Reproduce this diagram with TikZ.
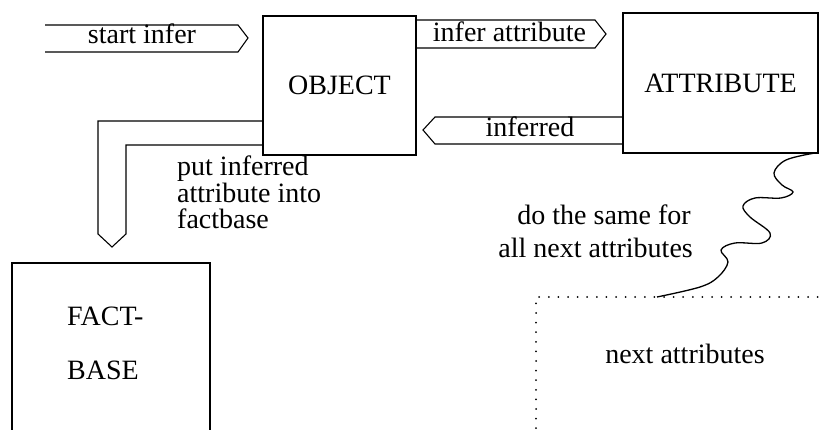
\documentclass[tikz,border=0pt]{standalone}
\usepackage{fontspec}
\setmainfont{Liberation Serif}
\usepackage{tikz}
\usetikzlibrary{positioning,calc}

\begin{document}
\begin{tikzpicture}[x=1pt, y=-1pt]
        % Định nghĩa style
        \tikzstyle{box} = [
            draw=black,
            line width=1.1pt,
            font=\fontsize{28}{32}\selectfont,
            outer sep=0pt
        ]
        \tikzstyle{band} = [draw=black, line width=1.1pt]
        \tikzstyle{txt} = [font=\fontsize{28}{32}\selectfont, inner sep=0pt]
        \tikzstyle{dotbox} = [
            draw=black,
            line width=2pt,
            line cap=round,
            dash pattern=on 0pt off 9.6pt,
            outer sep=0pt
        ]

        % Khung hình
        \useasboundingbox (0,0) rectangle (820,430);
        \fill[white] (0,0) rectangle (820,430);
        \clip (0,0) rectangle (820,430);

        % Các khối chính
        \node[box, minimum width=153, minimum height=139] (obj) at (339.5,85.5) {OBJECT};
        \node[box, minimum width=195, minimum height=140] (attr) at (720.5,83) {ATTRIBUTE};
        \node[box, anchor=north west, minimum width=198, minimum height=200] (fact) at (12,263) {};
        \node[txt, anchor=base west] (fact1) at (67,326) {FACT-};
        \node[txt, anchor=base west] (fact2) at (67,380) {BASE};
        \node[dotbox, anchor=north west, minimum width=320, minimum height=160] (next) at (536,297) {};
        \node[txt, anchor=base] (nextlbl) at (685,364) {next attributes};

        % Mũi tên start infer
        \coordinate (startin) at (45,38);
        \draw[band] (startin |- 0,25) -- (238,25) -- (248,38) -- (238,52) -- (startin |- 0,52);
        \node[txt, anchor=base] (startlbl) at (142,44) {start infer};

        % OBJECT -> ATTRIBUTE
        \draw[band] (obj.east |- 0,20) -- (595,20) -- (606,34) -- (595,48) -- (obj.east |- 0,48);
        \node[txt, anchor=base] (inferlbl) at (509.5,42) {infer attribute};

        % ATTRIBUTE -> OBJECT
        \draw[band] (attr.west |- 0,117) -- (435,117) -- (423,130) -- (435,144) -- (attr.west |- 0,144);
        \node[txt, anchor=base] (inferredlbl) at (530,137) {inferred};

        % OBJECT -> FACT-BASE
        \draw[band] (obj.west |- 0,121) -- (98,121) -- (98,234) -- (112,247) -- (126,234) -- (126,145) -- (obj.west |- 0,145);
        \node[txt, anchor=base west] (put1) at (177,176) {put inferred};
        \node[txt, anchor=base west] (put2) at (177,203) {attribute into};
        \node[txt, anchor=base west] (put3) at (177,229) {factbase};

        % Đường lượn sóng tới next attributes
        \coordinate (wavyend) at ([xshift=121pt]next.north west);
        \draw[line width=1.3pt] plot[smooth, tension=0.6] coordinates {
            ([xshift=-3pt]attr.south east) (786,160) (774,173) (782,185) (793,192) (781,198)
            (755,198) (743,206) (750,217) (770,233) (762,243) (735,243) (721,250)
            (728,262) (718,277) (700,287) (wavyend)};
        \node[txt, anchor=base east] (same1) at (691,225) {do the same for};
        \node[txt, anchor=base east] (same2) at (693,258) {all next attributes};
\end{tikzpicture}
\end{document}
